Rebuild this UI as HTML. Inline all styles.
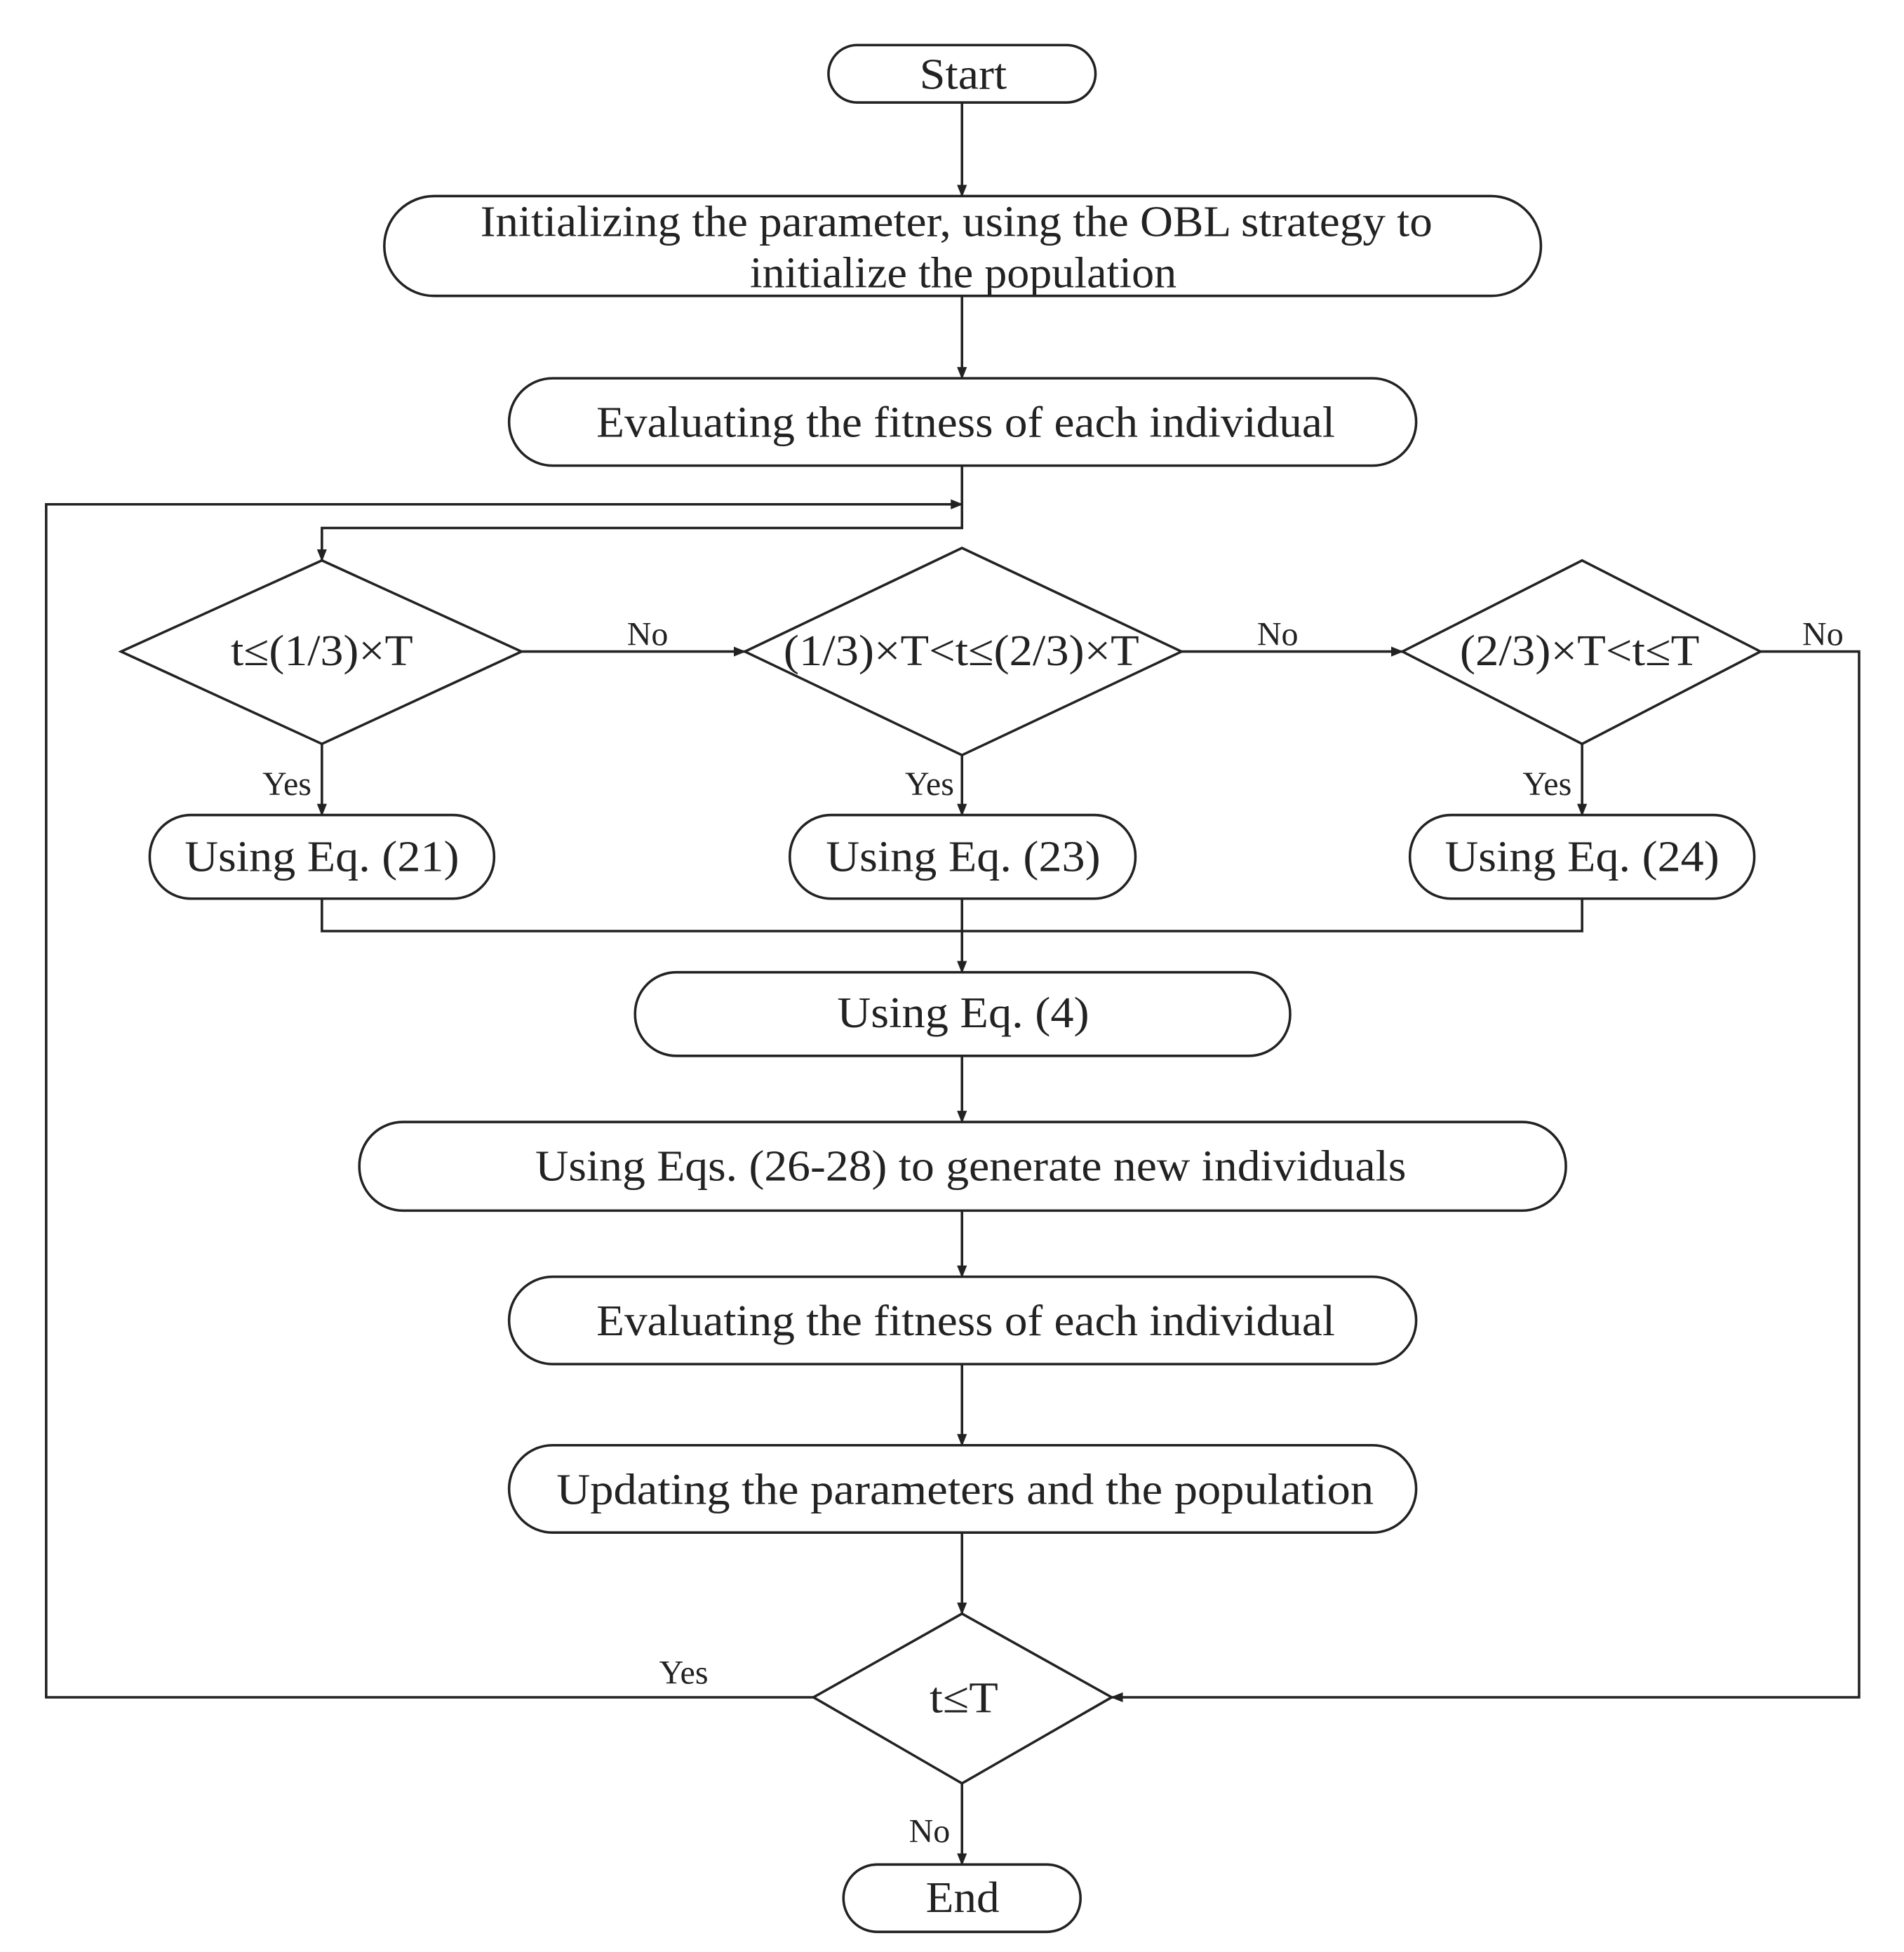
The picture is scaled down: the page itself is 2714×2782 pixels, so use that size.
<!DOCTYPE html>
<html><head><meta charset="utf-8"><style>html,body{margin:0;padding:0;background:#fff}svg{display:block}</style></head>
<body>
<svg width="2714" height="2782" viewBox="0 0 1526 1564" xmlns="http://www.w3.org/2000/svg">
<defs><marker id="a" markerWidth="10" markerHeight="10" refX="9" refY="5" orient="auto" markerUnits="userSpaceOnUse"><path d="M0,1 L10,5 L0,9 z" fill="#222"/></marker></defs>
<g fill="none" stroke="#222" stroke-width="2">
<rect x="664" y="36" width="214" height="46" rx="23"/>
<rect x="308" y="157" width="927" height="80" rx="40"/>
<rect x="408" y="303" width="727" height="70" rx="35"/>
<polygon points="97,522 258,449 418,522 258,596"/>
<polygon points="597,522 771,439 947,522 771,605"/>
<polygon points="1124,522 1268,449 1411,522 1268,596"/>
<rect x="120" y="653" width="276" height="67" rx="33"/>
<rect x="633" y="653" width="277" height="67" rx="33"/>
<rect x="1130" y="653" width="276" height="67" rx="33"/>
<rect x="509" y="779" width="525" height="67" rx="33"/>
<rect x="288" y="899" width="967" height="71" rx="35"/>
<rect x="408" y="1023" width="727" height="70" rx="35"/>
<rect x="408" y="1158" width="727" height="70" rx="35"/>
<polygon points="652,1360 771,1293 891,1360 771,1429"/>
<rect x="676" y="1494" width="190" height="54" rx="27"/>
<path d="M771,82V157" marker-end="url(#a)"/>
<path d="M771,237V303" marker-end="url(#a)"/>
<path d="M771,373V423H258V449" marker-end="url(#a)"/>
<path d="M652,1360H37V404H771" marker-end="url(#a)"/>
<path d="M418,522H597" marker-end="url(#a)"/>
<path d="M947,522H1124" marker-end="url(#a)"/>
<path d="M1411,522H1490V1360H891" marker-end="url(#a)"/>
<path d="M258,596V653" marker-end="url(#a)"/>
<path d="M771,605V653" marker-end="url(#a)"/>
<path d="M1268,596V653" marker-end="url(#a)"/>
<path d="M258,720V746H1268V720M771,720V779" marker-end="url(#a)"/>
<path d="M771,846V899" marker-end="url(#a)"/>
<path d="M771,970V1023" marker-end="url(#a)"/>
<path d="M771,1093V1158" marker-end="url(#a)"/>
<path d="M771,1228V1293" marker-end="url(#a)"/>
<path d="M771,1429V1494" marker-end="url(#a)"/>
</g>
<g font-family="Liberation Serif, serif" fill="#222" text-anchor="middle" font-size="35" lengthAdjust="spacingAndGlyphs">
<text x="772" y="71" textLength="70" lengthAdjust="spacingAndGlyphs">Start</text>
<text x="766.5" y="189" textLength="763" lengthAdjust="spacingAndGlyphs">Initializing the parameter, using the OBL strategy to</text>
<text x="772" y="230" textLength="342" lengthAdjust="spacingAndGlyphs">initialize the population</text>
<text x="774" y="350" textLength="592" lengthAdjust="spacingAndGlyphs">Evaluating the fitness of each individual</text>
<text x="258" y="533" textLength="146" lengthAdjust="spacingAndGlyphs">t≤(1/3)×T</text>
<text x="770.5" y="533" textLength="285" lengthAdjust="spacingAndGlyphs">(1/3)×T&lt;t≤(2/3)×T</text>
<text x="1266" y="533" textLength="192" lengthAdjust="spacingAndGlyphs">(2/3)×T&lt;t≤T</text>
<text x="258" y="698" textLength="220" lengthAdjust="spacingAndGlyphs">Using Eq. (21)</text>
<text x="772" y="698" textLength="220" lengthAdjust="spacingAndGlyphs">Using Eq. (23)</text>
<text x="1268" y="698" textLength="220" lengthAdjust="spacingAndGlyphs">Using Eq. (24)</text>
<text x="772" y="823" textLength="202" lengthAdjust="spacingAndGlyphs">Using Eq. (4)</text>
<text x="778" y="946" textLength="698" lengthAdjust="spacingAndGlyphs">Using Eqs. (26-28) to generate new individuals</text>
<text x="774" y="1070" textLength="592" lengthAdjust="spacingAndGlyphs">Evaluating the fitness of each individual</text>
<text x="773.5" y="1205" textLength="655" lengthAdjust="spacingAndGlyphs">Updating the parameters and the population</text>
<text x="772.5" y="1372" textLength="55" lengthAdjust="spacingAndGlyphs">t≤T</text>
<text x="771.5" y="1532" textLength="59" lengthAdjust="spacingAndGlyphs">End</text>
<g font-size="27">
<text x="519" y="517">No</text>
<text x="1024" y="517">No</text>
<text x="1461" y="517">No</text>
<text x="230" y="637">Yes</text>
<text x="745" y="637">Yes</text>
<text x="1240" y="637">Yes</text>
<text x="548" y="1349">Yes</text>
<text x="745" y="1476">No</text>
</g>
</g>
</svg>
</body></html>
